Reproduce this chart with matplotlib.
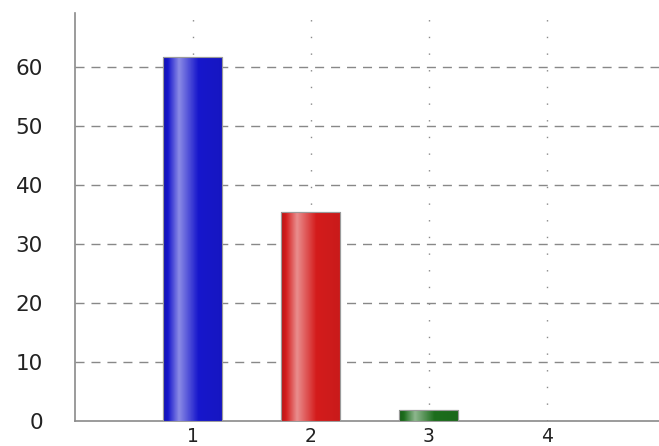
import matplotlib.pyplot as plt
import numpy as np
from matplotlib.colors import to_rgb

categories = [1, 2, 3, 4]
values = [61.7, 35.4, 1.9, 0]
bar_colors = ['#1717cc', '#d41c1c', '#1d6e1d', '#888888']
y_ticks = [0, 10, 20, 30, 40, 50, 60]

fig = plt.figure(figsize=(6.59, 4.46), dpi=100)
ax = fig.add_axes([75 / 659, 25 / 446, 584 / 659, 408 / 446])

bars = ax.bar(categories, values, width=0.5, color=bar_colors,
              edgecolor='#9a9a9a', linewidth=0.8, zorder=3)

# cylinder-like shading on each bar
for b, c in zip(bars, bar_colors):
    if b.get_height() <= 0:
        continue
    base = np.array(to_rgb(c))
    light = base + (1 - base) * 0.5
    dark = base * 0.85
    pos = np.linspace(0, 1, 100)
    stops = [0, 0.08, 0.27, 0.6, 1]
    cols = [dark, base, light, base, base * 0.95]
    grad = np.array([[np.interp(p, stops, [s[k] for s in cols]) for k in range(3)] for p in pos])
    x0, y0 = b.get_x(), b.get_y()
    im = ax.imshow(grad[np.newaxis, :, :], extent=[x0, x0 + b.get_width(), y0, y0 + b.get_height()],
                   aspect='auto', zorder=3.5, interpolation='bilinear')
    im.set_clip_path(b)
    ax.add_patch(plt.Rectangle((x0, y0), b.get_width(), b.get_height(), fill=False,
                               edgecolor='#9a9a9a', linewidth=0.8, zorder=4))

ax.set_xlim(0, 4.95)
ax.set_ylim(0, 69.2)
ax.set_xticks(categories)
ax.set_yticks(y_ticks)
ax.set_xticklabels([str(c) for c in categories], fontsize=13.5, color='#222222')
ax.set_yticklabels([str(t) for t in y_ticks], fontsize=15.5, color='#222222')
ax.tick_params(axis='both', length=0)
ax.tick_params(axis='y', pad=23)
ax.tick_params(axis='x', pad=4)

for t in y_ticks[1:]:
    ax.axhline(t, color='#888888', linewidth=1, linestyle=(0, (6.5, 5)), zorder=1)
for c in categories:
    ax.axvline(c, color='#8a8a8a', linewidth=1, linestyle=(0, (1, 11)), zorder=1)

for s in ['top', 'right']:
    ax.spines[s].set_visible(False)
for s in ['left', 'bottom']:
    ax.spines[s].set_color('#8a8a8a')
    ax.spines[s].set_linewidth(1.2)

fig.savefig('out.png', dpi=100)
